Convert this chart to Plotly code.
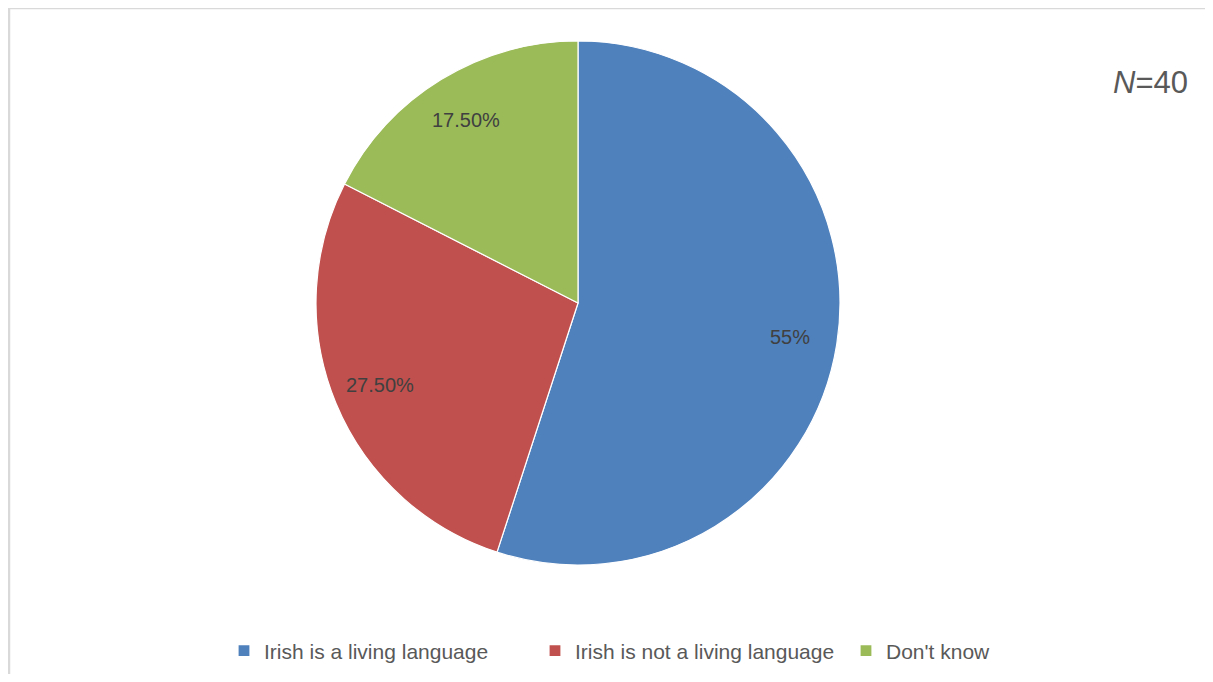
import math
import plotly.graph_objects as go

categories = ["Irish is a living language", "Irish is not a living language", "Don't know"]
values = [55, 27.5, 17.5]
label_texts = ["55%", "27.50%", "17.50%"]
colors = ["#4F81BD", "#C0504D", "#9BBB59"]
n_text = "<i>N</i>=40"

# page body has an 8px margin; work in figure coordinates
OFF = 8
W, H = 1213 - 2 * OFF, 682 - 2 * OFF
cx_px, cy_px, r_px = 578 - OFF, 303 - OFF, 262

fig = go.Figure(go.Pie(
    labels=categories,
    values=values,
    sort=False,
    direction="clockwise",
    rotation=0,
    textinfo="none",
    hoverinfo="label+percent",
    marker=dict(colors=colors, line=dict(color="white", width=1.2)),
    domain=dict(x=[(cx_px - r_px) / W, (cx_px + r_px) / W],
                y=[(H - cy_px - r_px) / H, (H - cy_px + r_px) / H]),
))

total = sum(values)
cum = 0
annotations = []
for v, t in zip(values, label_texts):
    ang = math.radians(360 * (cum + v / 2) / total)
    cum += v
    rr = 0.82 * r_px
    dx = rr * math.sin(ang)
    dy = rr * math.cos(ang)
    annotations.append(dict(
        x=(cx_px + dx) / W, y=(H - cy_px + dy) / H, xref="paper", yref="paper",
        xanchor="center", yanchor="middle",
        text=t, showarrow=False, font=dict(family="Liberation Sans", size=20, color="#404040"),
    ))

annotations.append(dict(
    x=(1190 - OFF) / W, y=(H - (83 - OFF)) / H, xref="paper", yref="paper",
    xanchor="right", yanchor="middle",
    text=n_text, showarrow=False, font=dict(family="Liberation Sans", size=31, color="#595959"),
))

fig.update_layout(
    width=W, height=H,
    margin=dict(l=0, r=0, t=0, b=0),
    paper_bgcolor="white",
    plot_bgcolor="white",
    showlegend=True,
    legend=dict(orientation="h", x=(224 - OFF) / W, xanchor="left",
                y=(H - (651 - OFF)) / H, yanchor="middle",
                font=dict(family="Liberation Sans", size=21, color="#595959"),
                entrywidth=266, entrywidthmode="pixels",
                traceorder="normal"),
    annotations=annotations,
    shapes=[
        dict(type="line", xref="paper", yref="paper", x0=1 / W, x1=1, y0=1, y1=1,
             line=dict(color="#D9D9D9", width=2.5)),
        dict(type="line", xref="paper", yref="paper", x0=1 / W, x1=1 / W, y0=0, y1=1,
             line=dict(color="#D9D9D9", width=2.5)),
    ],
)

fig.write_html("out.html")
